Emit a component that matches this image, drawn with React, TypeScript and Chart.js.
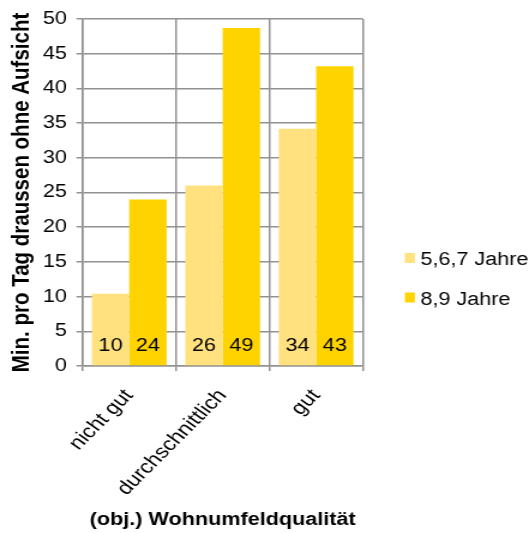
import React, { useEffect, useRef } from "react";
import { Chart, registerables } from "chart.js";

Chart.register(...registerables);

// ---- data ----
const categories = ["nicht gut", "durchschnittlich", "gut"];
const seriesNames = ["5,6,7 Jahre", "8,9 Jahre"];
const valuesYoung = [10.4, 26.0, 34.2];
const valuesOlder = [24.0, 48.7, 43.2];
const yTickMin = 0;
const yTickMax = 50;
const yTickStep = 5;
const xTitle = "(obj.) Wohnumfeldqualität";
const yTitle = "Min. pro Tag draussen ohne Aufsicht";

// ---- style ----
const COLORS = ["#FFE17F", "#FFD300"];
const GRID = "#929292";
const FAMILY = '"Liberation Sans", Arial, Helvetica, sans-serif';
const OUT_W = 529;
const OUT_H = 533;
const LOGICAL_W = 441; // canvas is stretched horizontally to OUT_W

const valueLabelPlugin = {
  id: "valueLabels",
  afterDatasetsDraw(chart: any) {
    const ctx = chart.ctx;
    const y0 = chart.scales.y.getPixelForValue(0);
    ctx.save();
    ctx.font = `18px ${FAMILY}`;
    ctx.fillStyle = "#000";
    ctx.textAlign = "center";
    ctx.textBaseline = "alphabetic";
    chart.data.datasets.forEach((ds: any, i: number) => {
      const meta = chart.getDatasetMeta(i);
      meta.data.forEach((bar: any, j: number) => {
        ctx.fillText(String(Math.round(ds.data[j])), bar.x, y0 - 15);
      });
    });
    ctx.restore();
  },
};

const legendPlugin = {
  id: "sideLegend",
  afterDraw(chart: any) {
    const ctx = chart.ctx;
    const left = chart.chartArea.right + 35;
    const baseTop = 253;
    const gap = 39.5;
    ctx.save();
    ctx.font = `18px ${FAMILY}`;
    ctx.textAlign = "left";
    ctx.textBaseline = "alphabetic";
    chart.data.datasets.forEach((ds: any, i: number) => {
      const top = baseTop + i * gap;
      ctx.fillStyle = ds.backgroundColor;
      ctx.fillRect(left, top, 8.3, 10);
      ctx.fillStyle = "#000";
      ctx.fillText(ds.label, left + 13, top + 12);
    });
    ctx.restore();
  },
};

export default function App() {
  const canvasRef = useRef<HTMLCanvasElement | null>(null);

  useEffect(() => {
    if (!canvasRef.current) return;
    const chart = new Chart(canvasRef.current, {
      type: "bar",
      data: {
        labels: categories,
        datasets: [
          {
            label: seriesNames[0],
            data: valuesYoung,
            backgroundColor: COLORS[0],
            borderWidth: 0,
            categoryPercentage: 0.8,
            barPercentage: 1.0,
          },
          {
            label: seriesNames[1],
            data: valuesOlder,
            backgroundColor: COLORS[1],
            borderWidth: 0,
            categoryPercentage: 0.8,
            barPercentage: 1.0,
          },
        ],
      },
      options: {
        animation: false,
        responsive: false,
        devicePixelRatio: 1,
        layout: { padding: { left: 0, right: 138.5, top: 19, bottom: 0 } },
        plugins: {
          legend: { display: false },
          tooltip: { enabled: false },
        },
        scales: {
          x: {
            grid: { color: GRID, lineWidth: 1.5, tickLength: 5, offset: true },
            border: { color: GRID, width: 1.5 },
            ticks: {
              color: "#000",
              font: { family: FAMILY, size: 19 },
              minRotation: 50,
              maxRotation: 50,
              autoSkip: false,
              padding: 14,
              labelOffset: 0,
            },
            title: {
              display: true,
              text: xTitle,
              color: "#000",
              font: { family: FAMILY, size: 18, weight: "bold" },
              padding: { top: 0, bottom: 2 },
            },
            afterFit(scale: any) {
              scale.height = 167;
            },
          },
          y: {
            min: yTickMin,
            max: yTickMax,
            ticks: {
              stepSize: yTickStep,
              color: "#000",
              font: { family: FAMILY, size: 18 },
              padding: 8,
            },
            grid: { color: GRID, lineWidth: 1.5, tickLength: 5 },
            border: { color: GRID, width: 1.5 },
            title: {
              display: true,
              text: yTitle,
              color: "#000",
              font: { family: FAMILY, size: 20.5, weight: "bold" },
              padding: { top: 6.5, bottom: 0 },
            },
            afterFit(scale: any) {
              scale.width = 68.75;
            },
          },
        },
      } as any,
      plugins: [valueLabelPlugin, legendPlugin],
    });
    return () => chart.destroy();
  }, []);

  return (
    <div style={{ position: "absolute", left: 0, top: 0, width: OUT_W, height: OUT_H, background: "#fff" }}>
      <canvas
        ref={canvasRef}
        width={LOGICAL_W}
        height={OUT_H}
        style={{ display: "block", width: `${OUT_W}px`, height: `${OUT_H}px` }}
      />
    </div>
  );
}
